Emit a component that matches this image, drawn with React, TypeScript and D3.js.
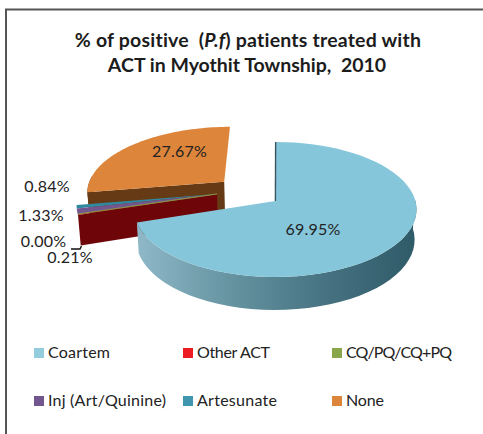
import React from 'react';
import * as d3 from 'd3';

const categories = ['Coartem', 'Other ACT', 'CQ/PQ/CQ+PQ', 'Inj (Art/Quinine)', 'Artesunate', 'None'];
const values = [69.95, 0.21, 0.0, 1.33, 0.84, 27.67];
const topColors = ['#86c6da', '#a81018', '#8aa64a', '#74568f', '#2f8aa0', '#dd853a'];
const wallColors = ['#4d7f90', '#6e0508', '#55662c', '#46335a', '#235a68', '#663a14'];
const legendColors = ['#93cddd', '#ed1c24', '#8aa64a', '#74568f', '#3f96ae', '#dd853a'];

// how far each slice sits from the pie centre, in radius units on the disc
const explodeU = [-0.015, -0.438, -0.438, -0.438, -0.438, -0.395];
const explodeV = [0, -0.107, -0.107, -0.107, -0.107, -0.3];

const width = 483;
const height = 434;
const cx = 277.5;
const cy = 201;
const rx = 140;
const persp = 0.126;
const tilt = 66.4;
const depth = 30;

const fmt = d3.format('.2f');

// disc coordinates to screen, with a little perspective so the back is flatter than the front
const project = (u: number, v: number, z = 0): [number, number] => {
  const w = 1 - persp * v;
  return [cx + ((rx * u) / w) * (1 - z * 0.00045), cy + (tilt * v) / w + z * (1 + 0.1 * v)];
};

const pieGen = d3.pie<number>().sort(null).value(d => d);
const slices = pieGen(values);

const sliceGeom = (i: number) => {
  const s = slices[i];
  const ox = explodeU[i];
  const oy = explodeV[i];
  const pt = (a: number, z = 0) => project(ox + Math.sin(a), oy - Math.cos(a), z);
  const apex = (z = 0) => project(ox, oy, z);
  const arc = d3.range(0, 61).map(k => s.startAngle + ((s.endAngle - s.startAngle) * k) / 60);
  return { s, pt, apex, arc };
};

const line = d3.line();

const topPath = (i: number) => {
  const g = sliceGeom(i);
  return line([g.apex(), ...g.arc.map(a => g.pt(a))]) + 'Z';
};

// outer wall, only the part of the rim that faces the viewer
const rimPath = (i: number) => {
  const g = sliceGeom(i);
  const front = g.arc.filter(a => Math.cos(a) < 0.1);
  if (front.length < 2) return '';
  return line([...front.map(a => g.pt(a)), ...front.slice().reverse().map(a => g.pt(a, depth))]) + 'Z';
};

// cut face from the centre out to the rim at the given angle
const facePath = (i: number, a: number) => {
  const g = sliceGeom(i);
  return line([g.apex(), g.pt(a), g.pt(a, depth), g.apex(depth)]) + 'Z';
};

const labelAnchors = [
  { x: 313, y: 235 },
  { x: 70, y: 263 },
  { x: 43.5, y: 247 },
  { x: 41, y: 221 },
  { x: 47, y: 192 },
  { x: 179.5, y: 157 },
];

const legendX = [34, 183, 332];
const legendY = [358, 406];
// Lato runs wider than the original face, so the legend texts get fitted
const legendWidths = [62, 73, 106, 118, 80, 38];

export default function App() {
  const none = sliceGeom(5);
  const red = sliceGeom(1);
  const coartem = sliceGeom(0);
  return (
    <svg
      width={width}
      height={height}
      viewBox={`0 0 ${width} ${height}`}
      style={{ position: 'absolute', left: 0, top: 0, background: '#fff', fontFamily: 'Lato, sans-serif' }}
    >
      <defs>
        <linearGradient id="coartemWall" x1="0" x2="1" y1="0" y2="0">
          <stop offset="0" stopColor="#8fb8c8" />
          <stop offset="0.35" stopColor="#64929f" />
          <stop offset="0.7" stopColor="#44707f" />
          <stop offset="1" stopColor="#2f5a68" />
        </linearGradient>
      </defs>

      <path d="M6,434V9.5H483" fill="none" stroke="#555" strokeWidth={2} />

      <text textAnchor="middle" fontSize={19.5} fontWeight={700} fill="#1c1c1c" style={{ whiteSpace: 'pre' }}>
        <tspan x={248} y={46.5} letterSpacing={0.2}>
          % of positive  (<tspan fontStyle="italic">P.f</tspan>) patients treated with
        </tspan>
        <tspan x={247} y={72}>ACT in Myothit Township,  2010</tspan>
      </text>

      {/* None sits at the back */}
      <path d={rimPath(5)} fill={wallColors[5]} />
      <path d={facePath(5, none.s.startAngle)} fill={wallColors[5]} />
      <path d={topPath(5)} fill={topColors[5]} />

      {/* the thin slices, only their tops and the red cut face show */}
      <path d={facePath(1, red.s.startAngle)} fill={wallColors[1]} />
      {[4, 3, 1].map(i => (
        <path key={categories[i]} d={topPath(i)} fill={topColors[i]} />
      ))}
      <path d={topPath(2)} fill="none" stroke={topColors[2]} strokeWidth={0.6} />

      <path d={rimPath(0)} fill="url(#coartemWall)" />
      <path d={topPath(0)} fill={topColors[0]} />
      <path
        d={line([coartem.apex(), coartem.pt(0)]) ?? ''}
        fill="none"
        stroke="#3a5560"
        strokeWidth={1.4}
      />

      <path d="M71,249H80L81.5,246" fill="none" stroke="#111" strokeWidth={1.4} />

      {values.map((v, i) => (
        <text key={categories[i]} x={labelAnchors[i].x} y={labelAnchors[i].y} textAnchor="middle" fontSize={16} fill="#222" letterSpacing={0.2}>
          {fmt(v)}%
        </text>
      ))}

      {categories.map((c, i) => {
        const x = legendX[i % 3];
        const y = legendY[Math.floor(i / 3)];
        return (
          <g key={c}>
            <rect x={x} y={y - 10} width={10} height={10} fill={legendColors[i]} />
            <text x={x + 14} y={y} fontSize={16} fill="#222" textLength={legendWidths[i]} lengthAdjust="spacing">
              {c}
            </text>
          </g>
        );
      })}
    </svg>
  );
}
